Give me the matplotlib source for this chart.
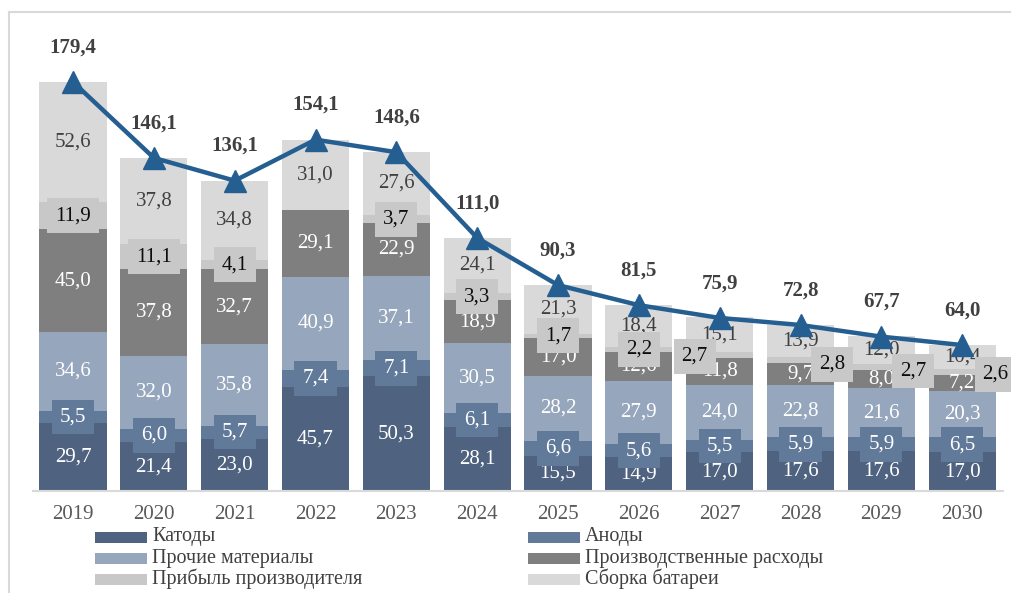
import matplotlib
matplotlib.use("Agg")
import matplotlib.pyplot as plt
from matplotlib.patches import Rectangle
from matplotlib.lines import Line2D
import numpy as np

plt.rcParams['font.family'] = ['Liberation Serif', 'DejaVu Serif']

years = ['2019', '2020', '2021', '2022', '2023', '2024', '2025', '2026', '2027', '2028', '2029', '2030']
cathodes = [29.7, 21.4, 23.0, 45.7, 50.3, 28.1, 15.5, 14.9, 17.0, 17.6, 17.6, 17.0]
anodes = [5.5, 6.0, 5.7, 7.4, 7.1, 6.1, 6.6, 5.6, 5.5, 5.9, 5.9, 6.5]
other_materials = [34.6, 32.0, 35.8, 40.9, 37.1, 30.5, 28.2, 27.9, 24.0, 22.8, 21.6, 20.3]
production = [45.0, 37.8, 32.7, 29.1, 22.9, 18.9, 17.0, 12.6, 11.8, 9.7, 8.0, 7.2]
profit = [11.9, 11.1, 4.1, 0.0, 3.7, 3.3, 1.7, 2.2, 2.7, 2.8, 2.7, 2.6]
assembly = [52.6, 37.8, 34.8, 31.0, 27.6, 24.1, 21.3, 18.4, 15.1, 13.9, 12.0, 10.4]
totals = [179.4, 146.1, 136.1, 154.1, 148.6, 111.0, 90.3, 81.5, 75.9, 72.8, 67.7, 64.0]

series_names = ['Катоды', 'Аноды', 'Прочие материалы', 'Производственные расходы',
                'Прибыль производителя', 'Сборка батареи']
series = [cathodes, anodes, other_materials, production, profit, assembly]
colors = ['#4F6380', '#627A99', '#96A6BD', '#7F7F7F', '#C8C8C8', '#D9D9D9']
label_colors = ['white', 'white', 'white', 'white', '#0D0D0D', '#404040']
box_colors = [None, '#627A99', None, None, '#C8C8C8', None]
line_color = '#255E91'

# label offset (points) for profit labels that are shifted off the bar
profit_offsets = {8: (-18, -1), 9: (23, -3), 10: (23, -3), 11: (24, -2)}

W, H = 1011, 593
fig = plt.figure(figsize=(W / 100, H / 100), dpi=100)
ax = fig.add_axes([32.6 / W, (H - 491) / H, 970 / W, 456 / H])

x = np.arange(len(years))
bottom = np.zeros(len(years))
for k, (vals, col) in enumerate(zip(series, colors)):
    vals = np.array(vals)
    ax.bar(x, vals, width=0.83, bottom=bottom, color=col, zorder=2)
    for i, v in enumerate(vals):
        if v <= 0:
            continue
        cy = bottom[i] + v / 2
        txt = f"{v:.1f}".replace('.', ',')
        off = (0, 0)
        if k == 4 and i in profit_offsets:
            off = profit_offsets[i]
        kw = {}
        if box_colors[k] is not None:
            kw['bbox'] = dict(boxstyle='square,pad=0.38', fc=box_colors[k], ec='none')
        ax.annotate(txt, (x[i], cy), xytext=off, textcoords='offset points',
                    ha='center', va='center', fontsize=15, color=label_colors[k],
                    zorder=3 + (1 if kw else 0), **kw)
    bottom = bottom + vals

ax.plot(x, totals, color=line_color, lw=3.2, marker='^', markersize=16, zorder=5)
for i, t in enumerate(totals):
    ax.annotate(f"{t:.1f}".replace('.', ','), (x[i], t), xytext=(0, 25),
                textcoords='offset points', ha='center', va='center',
                fontsize=15, fontweight='bold', color='#404040', zorder=6)

ax.set_xlim(-0.5, len(years) - 0.5)
ax.set_ylim(0, 200)
ax.set_xticks(x)
ax.set_xticklabels(years, fontsize=15, color='#595959')
ax.tick_params(axis='x', length=0, pad=10)
ax.set_yticks([])
for s in ['top', 'right', 'left']:
    ax.spines[s].set_visible(False)
ax.spines['bottom'].set_color('#D9D9D9')
ax.spines['bottom'].set_linewidth(1.5)
ax.patch.set_alpha(0)

# legend (manual, two columns)
cols_x = [95, 528]
rows_y = [537, 558, 579]
for idx, (name, col) in enumerate(zip(series_names, colors)):
    r, c = idx // 2, idx % 2
    hx = cols_x[c]
    hy = rows_y[r]
    fig.patches.append(Rectangle((hx / W, (H - hy - 5.5) / H), 52 / W, 11 / H,
                                 transform=fig.transFigure, fc=col, ec='none'))
    fig.text((hx + 57) / W, (H - hy) / H, name, fontsize=14.5, color='#404040',
             ha='left', va='center')

# outer frame
fig.add_artist(Line2D([8.5 / W, 1.0], [1 - 11.5 / H, 1 - 11.5 / H],
                      transform=fig.transFigure, color='#D9D9D9', lw=1.5))
fig.add_artist(Line2D([8.5 / W, 8.5 / W], [0, 1 - 11.5 / H],
                      transform=fig.transFigure, color='#D9D9D9', lw=1.5))

fig.savefig('out.png', dpi=100)
